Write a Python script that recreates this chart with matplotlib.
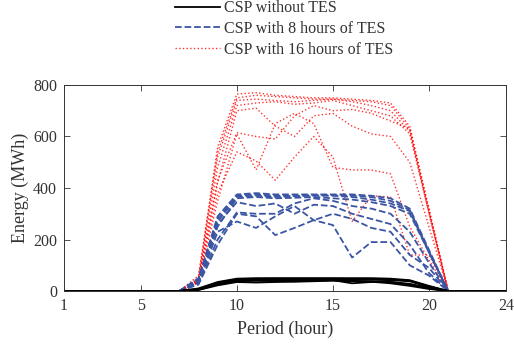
import matplotlib
matplotlib.use("Agg")
from matplotlib import pyplot as plt

plt.rcParams['font.family'] = ['Liberation Serif', 'DejaVu Serif']

hours = list(range(1, 25))

# energy (MWh) per day, hours 8..20 (all other hours are zero)
no_tes = [
    [10, 35, 48, 50, 50, 50, 50, 50, 50, 50, 48, 42, 20],
    [8, 32, 45, 47, 48, 48, 48, 48, 47, 47, 45, 40, 18],
    [6, 28, 42, 44, 45, 46, 46, 46, 45, 44, 42, 38, 15],
    [5, 25, 38, 40, 40, 38, 40, 42, 30, 35, 35, 25, 10],
    [4, 22, 35, 33, 35, 36, 38, 40, 38, 38, 35, 28, 12],
    [6, 30, 40, 42, 38, 40, 42, 44, 40, 36, 30, 20, 8],
]
tes8 = [
    [50, 290, 375, 380, 375, 375, 375, 375, 375, 370, 360, 320, 160],
    [45, 280, 370, 375, 370, 370, 372, 372, 370, 365, 350, 315, 155],
    [40, 270, 365, 370, 365, 368, 370, 370, 365, 355, 340, 310, 150],
    [35, 250, 360, 365, 360, 362, 365, 360, 355, 345, 330, 300, 150],
    [30, 200, 305, 300, 300, 340, 360, 350, 330, 320, 300, 230, 110],
    [30, 230, 270, 245, 290, 330, 275, 256, 130, 190, 190, 100, 60],
    [25, 180, 300, 290, 217, 245, 275, 300, 280, 245, 230, 140, 90],
    [35, 260, 345, 330, 340, 300, 335, 330, 300, 280, 260, 180, 70],
]
tes16 = [
    [50, 560, 765, 770, 760, 755, 750, 750, 745, 740, 730, 640, 320],
    [60, 540, 750, 760, 755, 750, 745, 745, 740, 735, 720, 630, 315],
    [45, 520, 740, 745, 740, 735, 740, 745, 735, 720, 700, 620, 310],
    [40, 480, 720, 730, 735, 725, 730, 740, 720, 700, 680, 610, 305],
    [40, 430, 615, 600, 590, 680, 720, 700, 705, 690, 660, 630, 300],
    [35, 380, 540, 505, 430, 520, 600, 520, 270, 370, 365, 140, 140],
    [30, 350, 610, 470, 650, 690, 650, 480, 470, 470, 455, 250, 120],
    [35, 420, 700, 710, 640, 600, 680, 690, 640, 610, 600, 500, 250],
]


def full_day(vals):
    return [0] * 7 + vals + [0] * 4


fig = plt.figure(figsize=(5.14, 3.44), dpi=100)
ax = fig.add_axes([0.1245, 0.154, 0.8595, 0.599])

gray = '#333333'
blue = '#3A55A4'

for i, d in enumerate(tes16):
    ax.plot(hours, full_day(d), color='red', linestyle=':', linewidth=1.0,
            alpha=0.8, label='CSP with 16 hours of TES' if i == 0 else None)
for i, d in enumerate(tes8):
    ax.plot(hours, full_day(d), color=blue, linestyle='--', linewidth=1.3,
            label='CSP with 8 hours of TES' if i == 0 else None)
for i, d in enumerate(no_tes):
    ax.plot(hours, full_day(d), color='black', linestyle='-', linewidth=1.3,
            label='CSP without TES' if i == 0 else None)

ax.set_xlim(1, 24)
ax.set_ylim(0, 800)
ax.set_xticks([1, 5, 10, 15, 20, 24])
ax.set_yticks([0, 200, 400, 600, 800])
ax.tick_params(direction='in', top=True, right=True, colors=gray,
               labelsize=11.5, length=4, width=0.6, pad=5)
for s in ax.spines.values():
    s.set_color(gray)
    s.set_linewidth(0.7)
ax.set_xlabel('Period (hour)', fontsize=13, color=gray, labelpad=5)
ax.set_ylabel('Energy (MWh)', fontsize=13, color=gray, labelpad=3)

handles, labels = ax.get_legend_handles_labels()
order = [2, 1, 0]
leg = fig.legend([handles[k] for k in order], [labels[k] for k in order],
                 loc='center', bbox_to_anchor=(0.553, 0.916), frameon=False,
                 fontsize=11.5, handlelength=2.8, handletextpad=0.3,
                 labelspacing=0.3, borderpad=0)
for t in leg.get_texts():
    t.set_color(gray)

fig.savefig('out.png', dpi=100)
